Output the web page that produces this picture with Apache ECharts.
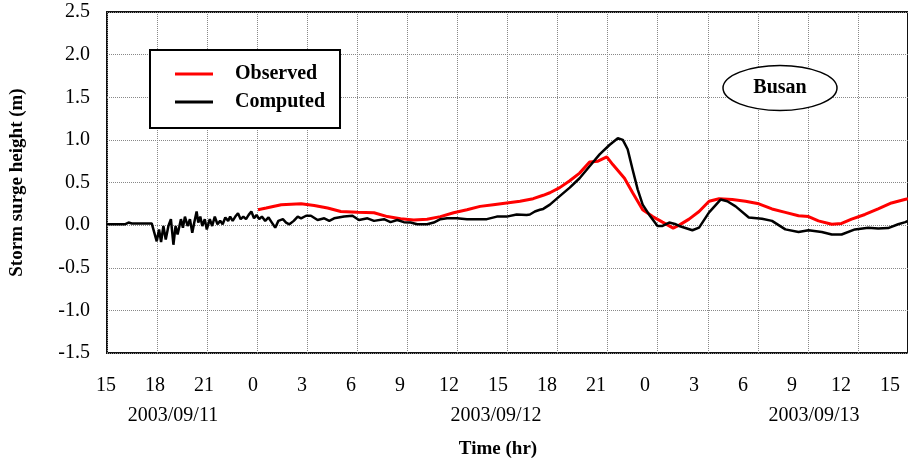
<!DOCTYPE html>
<html>
<head>
<meta charset="utf-8">
<script src="https://cdn.jsdelivr.net/npm/echarts@6/dist/echarts.min.js"></script>
<style>
html,body{margin:0;padding:0;background:#fff;}
#c{width:908px;height:464px;}
</style>
</head>
<body>
<div id="c"></div>
<script>
// hours since 2003/09/11 15:00
const computedHours = [0,1.07,1.29,1.49,2.09,2.68,2.98,3.12,3.24,3.38,3.52,3.68,3.83,3.98,4.11,4.23,4.43,4.55,4.67,4.83,4.97,5.11,5.23,5.37,5.47,5.59,5.71,5.86,5.98,6.16,6.30,6.46,6.62,6.78,6.93,7.09,7.26,7.38,7.53,7.69,7.85,8.01,8.17,8.33,8.49,8.65,8.81,8.96,9.12,9.28,9.48,9.68,9.88,10.08,10.27,10.54,10.73,10.93,11.19,11.43,11.63,11.93,12.22,12.62,13.02,13.32,13.61,14.21,14.71,15.10,15.61,16.0,16.6,16.99,17.39,17.79,18.19,18.59,19.18,19.58,19.98,20.38,20.97,21.57,22.16,22.76,23.36,23.95,24.55,25.15,25.34,25.64,25.94,26.14,26.54,27.13,27.73,28.32,28.92,29.52,30.11,30.61,30.91,31.2,31.5,31.8,32.1,32.5,32.99,33.29,33.69,34.09,34.29,35.08,35.48,36.08,36.77,37.17,37.67,38.46,39.25,39.85,40.65,41.44,42.04,42.83,43.43,44.02,44.82,45.62,46.21,46.81,47.41,47.84,48];
const computedHeight = [0.01,0.01,0.03,0.02,0.02,0.02,-0.19,-0.05,-0.2,-0.01,-0.17,-0.01,0.07,-0.23,-0.01,-0.11,0.07,-0.03,0.10,-0.01,0.07,-0.09,0.03,0.16,0.03,0.10,-0.01,0.07,-0.05,0.07,-0.01,0.10,0.01,0.05,0.01,0.09,0.05,0.10,0.05,0.10,0.14,0.07,0.10,0.07,0.12,0.16,0.08,0.12,0.07,0.10,0.05,0.09,0.03,-0.03,0.05,0.07,0.03,0.01,0.05,0.10,0.08,0.11,0.11,0.06,0.08,0.05,0.08,0.10,0.11,0.06,0.08,0.05,0.07,0.035,0.06,0.035,0.03,0.01,0.01,0.03,0.07,0.08,0.08,0.07,0.07,0.07,0.10,0.10,0.125,0.12,0.125,0.16,0.18,0.19,0.24,0.34,0.44,0.55,0.69,0.83,0.94,1.02,1.00,0.89,0.65,0.42,0.24,0.12,-0.01,-0.01,0.03,0.01,-0.01,-0.06,-0.03,0.15,0.30,0.28,0.22,0.09,0.075,0.05,-0.05,-0.08,-0.06,-0.08,-0.11,-0.11,-0.05,-0.03,-0.04,-0.035,0.01,0.035,0.05];
const observedHours = [9.05,9.54,10.44,11.63,12.42,13.22,14.01,15.01,16.0,16.8,17.59,18.38,19.18,19.98,20.77,21.57,22.36,23.15,23.95,24.75,25.54,26.14,26.54,27.13,27.73,28.32,28.92,29.42,29.95,30.31,31.01,31.5,32.1,32.7,33.29,33.93,34.29,34.88,35.48,36.08,36.68,37.47,38.26,39.06,39.85,40.65,41.44,42.04,42.63,43.43,44.02,44.62,45.42,46.21,47.01,47.8,48];
const observedHeight = [0.18,0.20,0.24,0.25,0.23,0.20,0.16,0.15,0.145,0.10,0.075,0.06,0.07,0.10,0.145,0.18,0.22,0.24,0.26,0.28,0.31,0.35,0.38,0.44,0.52,0.61,0.74,0.75,0.80,0.71,0.55,0.38,0.18,0.10,0.035,-0.035,0.0,0.07,0.16,0.28,0.31,0.30,0.28,0.25,0.19,0.15,0.11,0.10,0.05,0.01,0.02,0.07,0.125,0.19,0.26,0.30,0.31];
const hourTickLabels = ['15','18','21','0','3','6','9','12','15','18','21','0','3','6','9','12','15'];
const dateLabels = ['2003/09/11','2003/09/12','2003/09/13'];
const seriesNames = ['Observed','Computed'];
const stationName = 'Busan';

const zip = (a,b) => a.map((x,i)=>[x,b[i]]);
const FONT = 'Liberation Serif';
const chart = echarts.init(document.getElementById('c'), null, {renderer:'canvas'});
chart.setOption({
  animation:false,
  backgroundColor:'#fff',
  grid:[
    {left:105, top:12, width:805, height:341, show:true, borderColor:'#111', borderWidth:2, backgroundColor:'transparent'},
    {left:106, right:18, top:12, height:341, show:false}
  ],
  xAxis:[
    {gridIndex:0, type:'value', min:0, max:48, interval:3,
      axisLine:{show:false}, axisTick:{show:false}, axisLabel:{show:false},
      splitLine:{show:true, lineStyle:{type:'dotted', color:'#888', width:1}}},
    {gridIndex:1, type:'category', data:hourTickLabels, boundaryGap:false,
      axisLine:{show:false}, axisTick:{show:false}, splitLine:{show:false},
      axisLabel:{show:true, margin:23, color:'#000', fontFamily:FONT, fontSize:20, interval:0},
      name:'Time (hr)', nameLocation:'middle', nameGap:87,
      nameTextStyle:{color:'#000', fontFamily:FONT, fontSize:19, fontWeight:'bold'}}
  ],
  yAxis:[
    {gridIndex:0, type:'value', min:-1.5, max:2.5, interval:0.5,
      axisLine:{show:false}, axisTick:{show:false},
      axisLabel:{margin:17, color:'#000', fontFamily:FONT, fontSize:20, formatter:v=>v.toFixed(1)},
      splitLine:{show:true, lineStyle:{type:'dotted', color:'#888', width:1}},
      name:'Storm surge height (m)', nameLocation:'middle', nameGap:80, nameRotate:90,
      nameTextStyle:{color:'#000', fontFamily:FONT, fontSize:19, fontWeight:'bold'}},
    {gridIndex:1, type:'value', show:false, min:0, max:1}
  ],
  legend:{
    show:true, orient:'vertical', left:150, top:50,
    backgroundColor:'#fff', borderColor:'#000', borderWidth:2,
    padding:[14,15,16,25], itemWidth:38, itemHeight:22, itemGap:8,
    icon:'path://M0,9.5L38,9.5L38,12.5L0,12.5Z',
    textStyle:{color:'#000', fontFamily:FONT, fontSize:20, fontWeight:'bold', padding:[0,0,0,17]},
    data:seriesNames
  },
  series:[
    {name:seriesNames[0], type:'line', xAxisIndex:0, yAxisIndex:0, data:zip(observedHours, observedHeight),
      symbol:'none', lineStyle:{color:'#ff0000', width:3}, itemStyle:{color:'#ff0000'}, z:3},
    {name:seriesNames[1], type:'line', xAxisIndex:0, yAxisIndex:0, data:zip(computedHours, computedHeight),
      symbol:'none', lineStyle:{color:'#000', width:2.5}, itemStyle:{color:'#000'}, z:4}
  ],
  graphic:[
    {type:'ellipse', shape:{cx:780, cy:88, rx:57, ry:22.5}, style:{fill:'#fff', stroke:'#000', lineWidth:1.5}, z:10},
    {type:'text', x:780, y:88, style:{text:stationName, fill:'#000', font:'bold 20px "Liberation Serif"', align:'center', verticalAlign:'middle'}, z:11},
    {type:'text', x:173, y:416, style:{text:dateLabels[0], fill:'#000', font:'20px "Liberation Serif"', align:'center', verticalAlign:'middle'}},
    {type:'text', x:496, y:416, style:{text:dateLabels[1], fill:'#000', font:'20px "Liberation Serif"', align:'center', verticalAlign:'middle'}},
    {type:'text', x:814, y:416, style:{text:dateLabels[2], fill:'#000', font:'20px "Liberation Serif"', align:'center', verticalAlign:'middle'}}
  ]
});
</script>
</body>
</html>
